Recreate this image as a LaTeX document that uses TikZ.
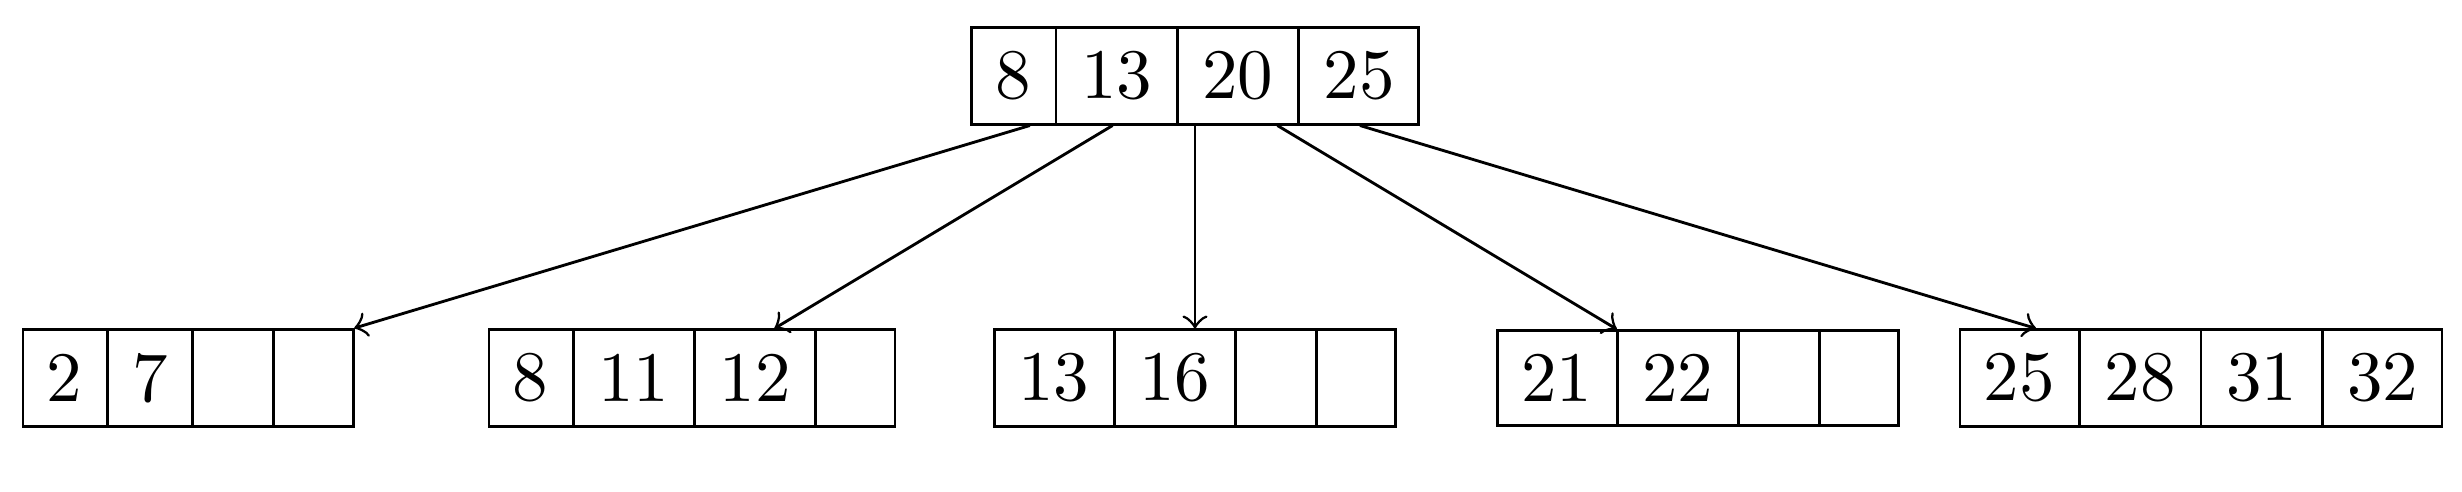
\documentclass[tikz,border=0pt]{standalone}
\usepackage{tikz}
\usetikzlibrary{shapes}

\tikzset{keys/.style={draw, rectangle split, rectangle split horizontal, rectangle split parts=4}}

\begin{document}
\begin{tikzpicture}[x=0.1408pt, y=-0.1408pt]
\useasboundingbox (0,0) rectangle (2462,492);

\draw(1195,76) node[keys] (R) {8\nodepart{two}13\nodepart{three}20\nodepart{four}25};

\draw(188,378) node[keys] (L1) {2\nodepart{two}7\nodepart{three}\nodepart{four}};
\draw(692,378) node[keys] (L2) {8\nodepart{two}11\nodepart{three}12\nodepart{four}};
\draw(1195,378) node[keys] (L3) {13\nodepart{two}16\nodepart{three}\nodepart{four}};
\draw(1698,378) node[keys] (L4) {21\nodepart{two}22\nodepart{three}\nodepart{four}};
\draw(2201,378) node[keys] (L5) {25\nodepart{two}28\nodepart{three}31\nodepart{four}32};

\draw[->] (R) -- (L1);
\draw[->] (R) -- (L2);
\draw[->] (R) -- (L3);
\draw[->] (R) -- (L4);
\draw[->] (R) -- (L5);

\end{tikzpicture}
\end{document}
